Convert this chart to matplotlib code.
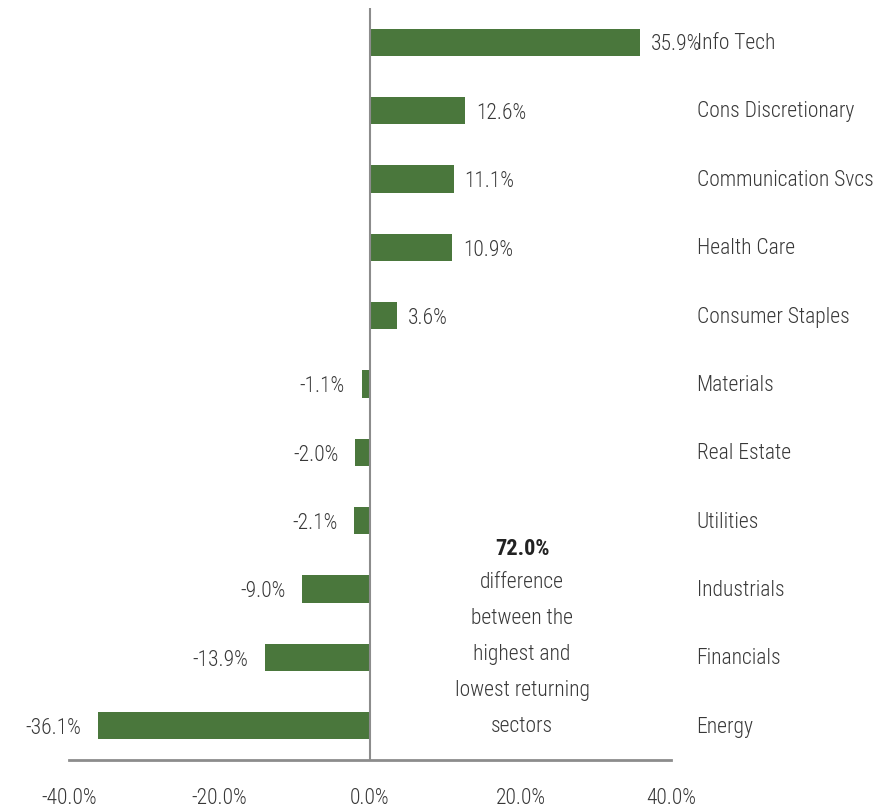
import matplotlib.pyplot as plt
import matplotlib.font_manager as fm

# pick a condensed face that has a light or regular weight
candidates = ["Open Sans Condensed", "Roboto Condensed", "Fira Sans Condensed",
              "Encode Sans Condensed", "IBM Plex Sans Condensed", "Asap Condensed",
              "Barlow Semi Condensed", "PT Sans Narrow", "Archivo Narrow"]
face, weight = "DejaVu Sans", "normal"
for c in candidates:
    weights = {f.weight for f in fm.fontManager.ttflist if f.name == c}
    weights = {w for w in weights if isinstance(w, int)}
    if any(w <= 400 for w in weights):
        face = c
        weight = "light" if 300 in weights else "normal"
        break
plt.rcParams["font.family"] = [face, "DejaVu Sans"]
plt.rcParams["font.weight"] = weight

sectors = ["Info Tech", "Cons Discretionary", "Communication Svcs", "Health Care",
           "Consumer Staples", "Materials", "Real Estate", "Utilities",
           "Industrials", "Financials", "Energy"]
returns = [35.9, 12.6, 11.1, 10.9, 3.6, -1.1, -2.0, -2.1, -9.0, -13.9, -36.1]
ticks = [-40, -20, 0, 20, 40]
spread = "72.0%"
note = ["difference", "between the", "highest and", "lowest returning", "sectors"]

bar_color = "#4a773c"
text_color = "#383838"
axis_color = "#8c8c8c"
fs = 15.5

fig = plt.figure(figsize=(8.87, 8.09), dpi=100)
ax = fig.add_axes([69 / 887, 49 / 809, 602 / 887, 752 / 809])

pos = list(range(len(sectors)))
ax.barh(pos, returns, height=0.4, color=bar_color, zorder=2)
ax.set_xlim(-40, 40)
ax.set_ylim(len(sectors) - 0.5, -0.5)

for y, (name, v) in enumerate(zip(sectors, returns)):
    if v >= 0:
        ax.annotate(f"{v:.1f}%", (v, y), xytext=(8, -2), textcoords="offset points",
                    ha="left", va="center", fontsize=fs, color=text_color)
    else:
        ax.annotate(f"{v:.1f}%", (v, y), xytext=(-12, -2), textcoords="offset points",
                    ha="right", va="center", fontsize=fs, color=text_color)
    ax.annotate(name, (43.4, y), xytext=(0, -1), textcoords="offset points",
                ha="left", va="center", fontsize=fs, color=text_color,
                annotation_clip=False)

ax.axvline(0, color=axis_color, lw=1.5, zorder=3)

for s in ["top", "left", "right"]:
    ax.spines[s].set_visible(False)
ax.spines["bottom"].set_color(axis_color)
ax.spines["bottom"].set_linewidth(2)
ax.set_yticks([])
ax.set_xticks(ticks)
ax.set_xticklabels([f"{t:.1f}%" for t in ticks])
ax.tick_params(axis="x", length=0, pad=20, labelsize=fs, labelcolor=text_color)

# callout about the spread between best and worst sector
ax.text(20.2, 7.41, spread, ha="center", va="center", fontsize=fs + 0.5,
        fontweight="bold", color="#222222")
for i, line in enumerate(note):
    ax.text(20.2, 7.91 + i * 0.526, line, ha="center", va="center",
            fontsize=fs, color=text_color)

fig.savefig("out.png", dpi=100)
